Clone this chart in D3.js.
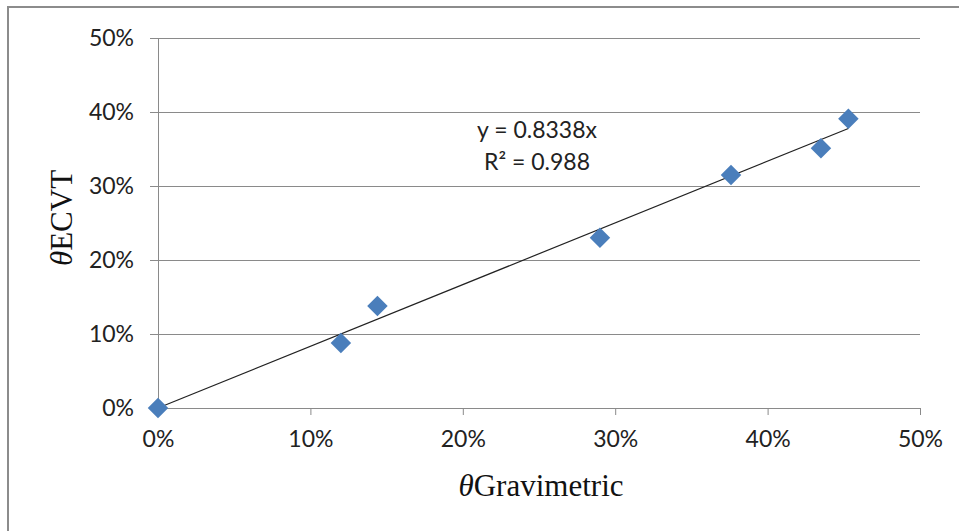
<!DOCTYPE html>
<html>
<head>
<meta charset="utf-8">
<script src="https://cdn.jsdelivr.net/npm/d3@7"></script>
<style>
  body { margin: 0; background: #fff; }
  .tick text { font-family: Lato, "Open Sans", sans-serif; font-size: 23px; fill: #222; }
  .eq { font-family: Lato, "Open Sans", sans-serif; font-size: 23px; fill: #222; }
  .title { font-family: "Liberation Serif", "Times New Roman", serif; font-size: 31px; fill: #111; }
</style>
</head>
<body>
<div id="chart"></div>
<script>
// measured points (gravimetric vs ECVT)
var gravimetric = [0.000, 0.120, 0.144, 0.290, 0.376, 0.435, 0.453];
var ecvt        = [0.000, 0.088, 0.138, 0.230, 0.315, 0.351, 0.391];
var slope = 0.8338;
var eqLines = ["y = 0.8338x", "R\u00b2 = 0.988"];
var ticks = [0, 0.1, 0.2, 0.3, 0.4, 0.5];

var W = 959, H = 531;
var margin = {top: 38, right: 39, bottom: 123, left: 158},
    width = W - margin.left - margin.right,
    height = H - margin.top - margin.bottom;

var svg = d3.select("#chart").append("svg")
    .attr("width", W)
    .attr("height", H);

// frame (only top + left visible in the original crop)
svg.append("path")
    .attr("d", "M8," + H + "V7H" + W)
    .attr("fill", "none")
    .attr("stroke", "#8c8c8c")
    .attr("stroke-width", 2);

var g = svg.append("g")
    .attr("transform", "translate(" + margin.left + "," + margin.top + ")");

var x = d3.scaleLinear().domain([0, 0.5]).range([0, width]);
var y = d3.scaleLinear().domain([0, 0.5]).range([height, 0]);
var pct = d3.format(".0%");

// gridlines
g.append("g").selectAll("line")
    .data(ticks.slice(1))
    .enter().append("line")
    .attr("x1", 0).attr("x2", width)
    .attr("y1", function(d) { return Math.round(y(d)) + 0.5; })
    .attr("y2", function(d) { return Math.round(y(d)) + 0.5; })
    .attr("stroke", "#8a8a8a")
    .attr("stroke-width", 1);

// axes
var xAxis = g.append("g")
    .attr("transform", "translate(0," + height + ")")
    .call(d3.axisBottom(x).tickValues(ticks).tickFormat(pct).tickSize(7).tickPadding(10));
var yAxis = g.append("g")
    .call(d3.axisLeft(y).tickValues(ticks).tickFormat(pct).tickSize(8).tickPadding(16));
[xAxis, yAxis].forEach(function(a) {
    a.select(".domain").attr("stroke", "#8a8a8a");
    a.selectAll(".tick line").attr("stroke", "#8a8a8a");
});
xAxis.selectAll(".tick text").attr("dy", "0.95em");

// trendline
var maxX = d3.max(gravimetric);
g.append("line")
    .attr("x1", x(0)).attr("y1", y(0))
    .attr("x2", x(maxX)).attr("y2", y(slope * maxX))
    .attr("stroke", "#222")
    .attr("stroke-width", 1.2);

// markers
var diamond = d3.symbol().type(d3.symbolSquare).size(210);
g.append("g").selectAll("path")
    .data(d3.range(gravimetric.length))
    .enter().append("path")
    .attr("d", diamond)
    .attr("transform", function(i) {
        return "translate(" + x(gravimetric[i]) + "," + y(ecvt[i]) + ") rotate(45)";
    })
    .attr("fill", "#4a7ebb");

// equation label
g.append("g").selectAll("text")
    .data(eqLines)
    .enter().append("text")
    .attr("class", "eq")
    .attr("text-anchor", "middle")
    .attr("x", 379)
    .attr("y", function(d, i) { return 100 + i * 32; })
    .text(function(d) { return d; });

// axis titles
var xt = svg.append("text")
    .attr("class", "title")
    .attr("text-anchor", "middle")
    .attr("x", 541)
    .attr("y", 496);
xt.append("tspan").style("font-style", "italic").text("\u03b8");
xt.append("tspan").text("Gravimetric");

var yt = svg.append("text")
    .attr("class", "title")
    .attr("text-anchor", "middle")
    .attr("transform", "translate(72,218) rotate(-90)");
yt.append("tspan").style("font-style", "italic").text("\u03b8");
yt.append("tspan").text("ECVT");
</script>
</body>
</html>
